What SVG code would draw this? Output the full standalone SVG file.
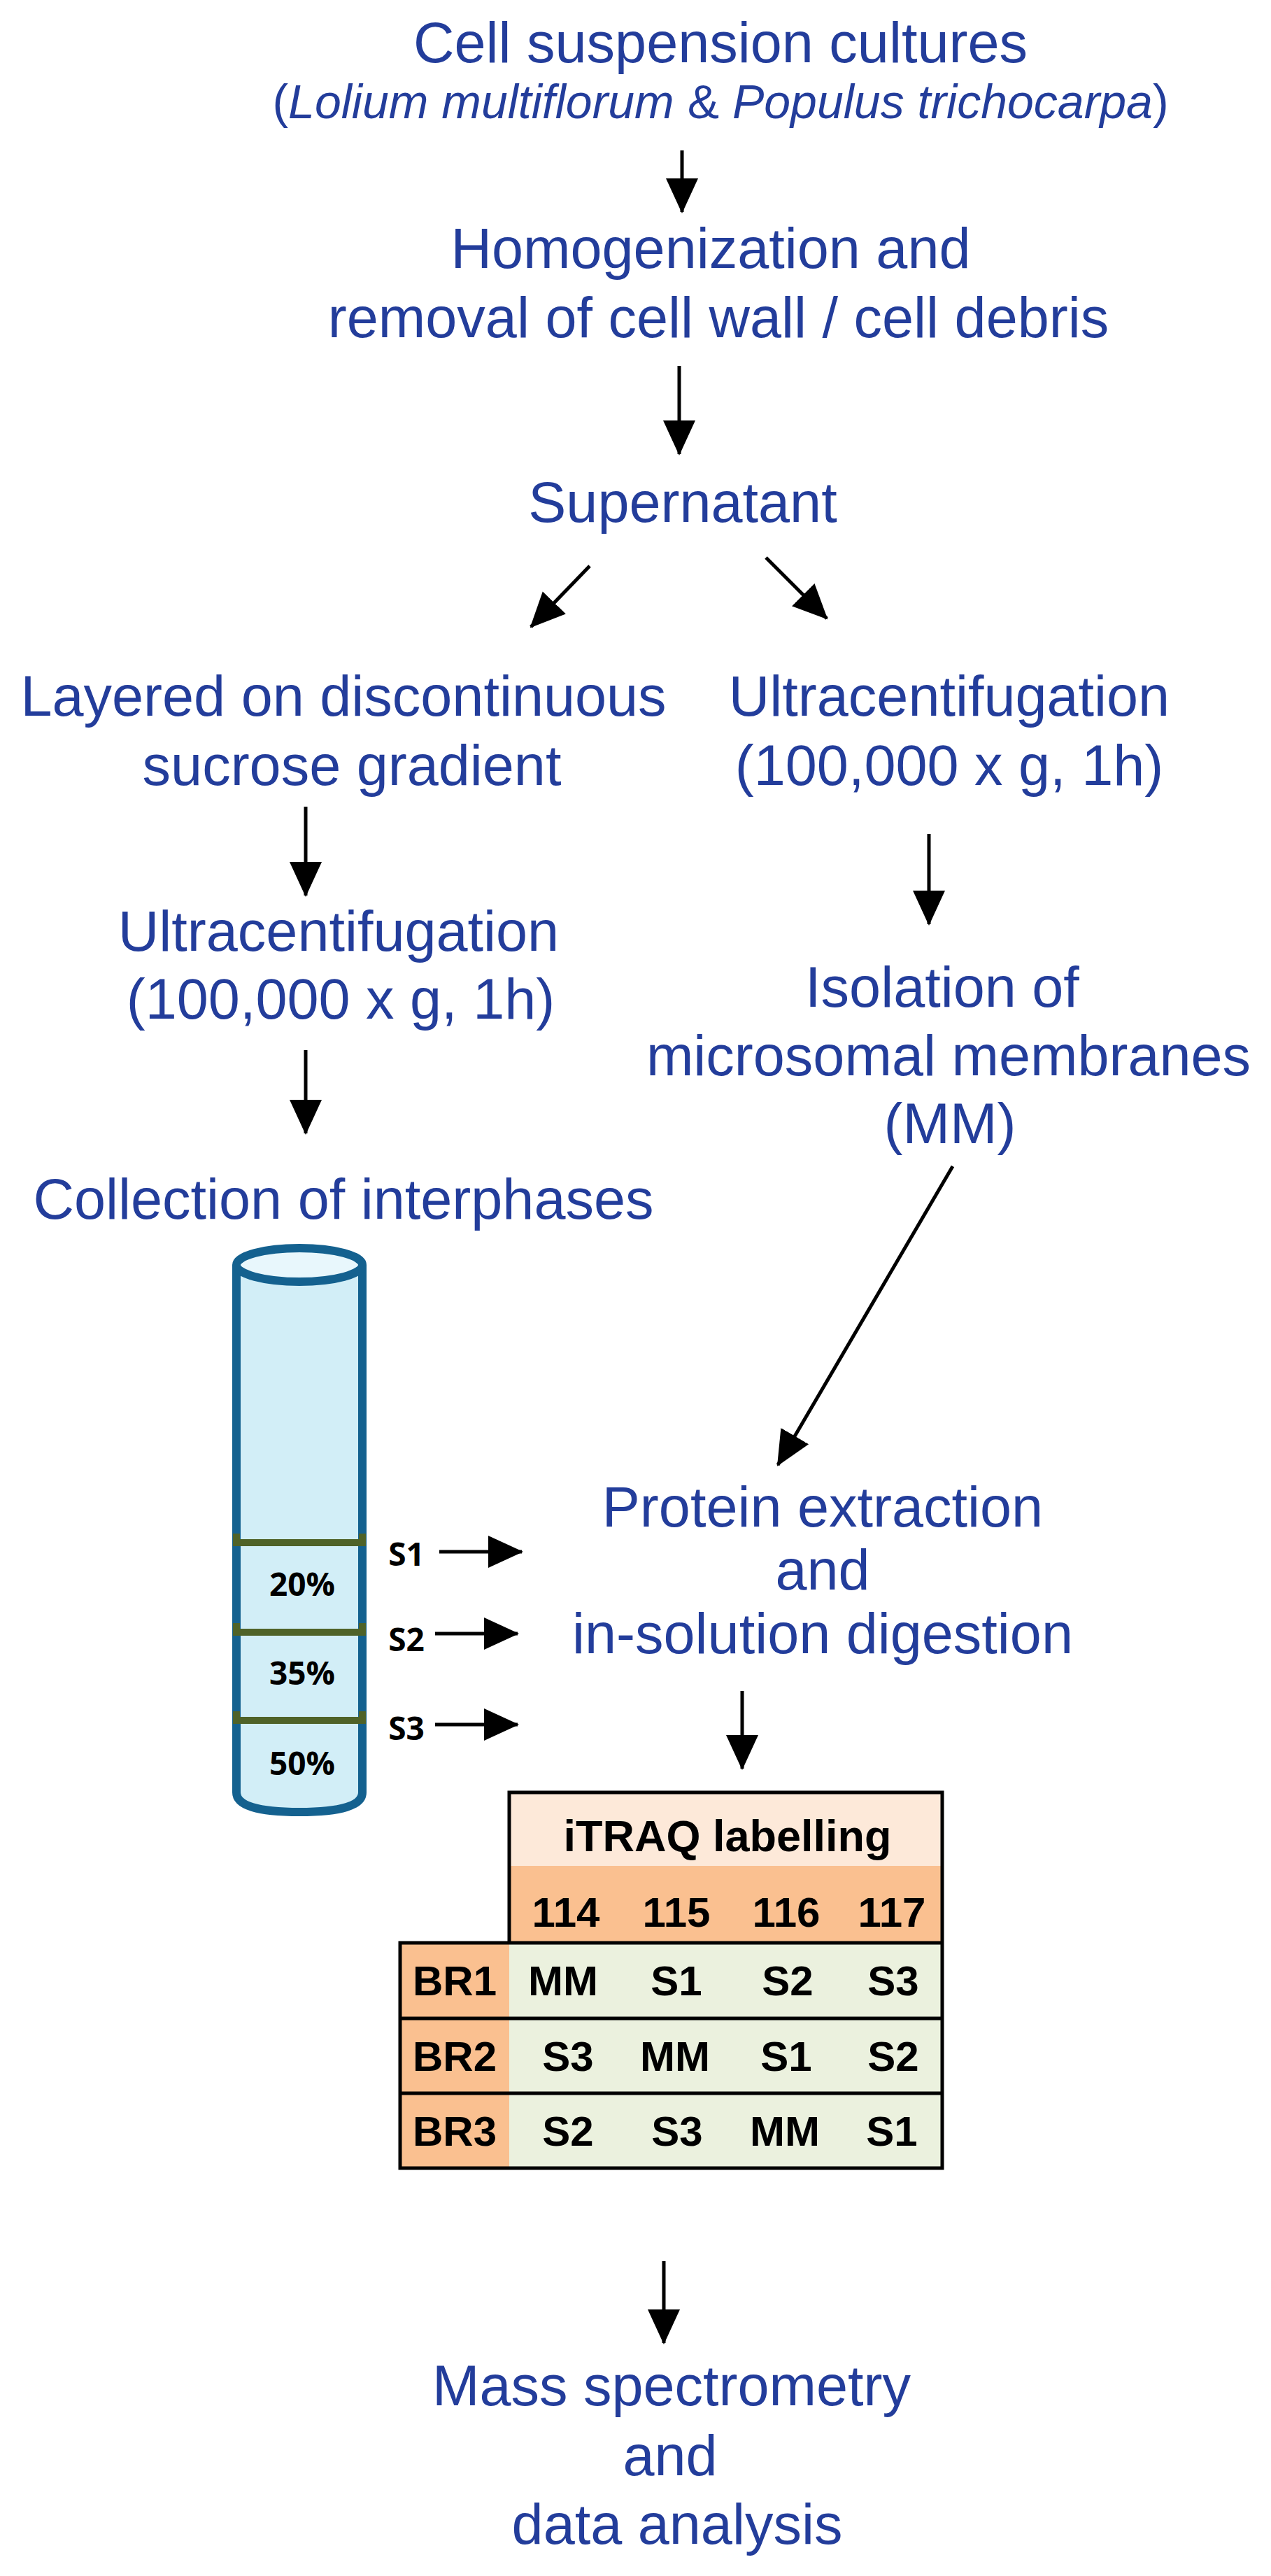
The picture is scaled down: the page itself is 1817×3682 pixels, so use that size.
<svg xmlns="http://www.w3.org/2000/svg" width="1817" height="3682" viewBox="0 0 1817 3682">
<style>
.t{font-family:"Liberation Sans",Arial,sans-serif;fill:#233D9B;font-size:81px;text-anchor:middle}
.b{font-family:"Liberation Sans",Arial,sans-serif;font-weight:bold;fill:#000;font-size:60px;text-anchor:middle}
.c{font-family:"Open Sans","Liberation Sans",sans-serif;font-weight:bold;fill:#000;font-size:46px;text-anchor:middle}
.a{stroke:#000;stroke-width:5;fill:none;marker-end:url(#ah)}
</style>
<defs>
<marker id="ah" markerUnits="userSpaceOnUse" markerWidth="50" markerHeight="50" viewBox="0 0 50 50" refX="48" refY="25" orient="auto">
<path d="M0,2 L50,25 L0,48 Z" fill="#000"/>
</marker>
</defs>
<rect width="1817" height="3682" fill="#fff"/>
<g id="n1"><text class="t" x="1030" y="89">Cell suspension cultures</text>
<text class="t" x="1030" y="169" style="font-size:68px">(<tspan font-style="italic">Lolium multiflorum</tspan> &amp; <tspan font-style="italic">Populus trichocarpa</tspan>)</text></g>
<g id="n2"><text class="t" x="1016" y="383">Homogenization and</text><text class="t" x="1027" y="482">removal of cell wall / cell debris</text></g>
<g id="n3"><text class="t" x="976" y="746">Supernatant</text></g>
<g id="n4"><text class="t" x="491" y="1023">Layered on discontinuous</text><text class="t" x="503" y="1122">sucrose gradient</text></g>
<g id="n5"><text class="t" x="1357" y="1023">Ultracentifugation</text><text class="t" x="1357" y="1122">(100,000 x g, 1h)</text></g>
<g id="n6"><text class="t" x="484" y="1359">Ultracentifugation</text><text class="t" x="487" y="1456">(100,000 x g, 1h)</text></g>
<g id="n7"><text class="t" x="1347" y="1439">Isolation of</text><text class="t" x="1356" y="1537">microsomal membranes</text><text class="t" x="1358" y="1634">(MM)</text></g>
<g id="n8"><text class="t" x="491" y="1742">Collection of interphases</text></g>
<g id="tube">
<path d="M338,1808 L338,2562 Q338,2590 428,2590 Q518,2590 518,2562 L518,1808" fill="#D2EEF7" stroke="#14618F" stroke-width="12"/>
<ellipse cx="428" cy="1808" rx="90" ry="24" fill="#E8F7FC" stroke="#14618F" stroke-width="12"/>
<g stroke="#4F6228" stroke-width="10" fill="none">
<path d="M338,2192 V2205 H518 V2192"/><path d="M338,2320 V2333 H518 V2320"/><path d="M338,2446 V2459 H518 V2446"/>
</g>
<text class="c" x="432" y="2281">20%</text><text class="c" x="432" y="2408">35%</text><text class="c" x="432" y="2537">50%</text>
<text class="c" x="581" y="2238">S1</text><text class="c" x="581" y="2360">S2</text><text class="c" x="581" y="2487">S3</text>
</g>
<g id="n9"><text class="t" x="1176" y="2182">Protein extraction</text><text class="t" x="1176" y="2272">and</text><text class="t" x="1176" y="2363">in-solution digestion</text></g>
<g id="table">
<rect x="728" y="2562" width="619" height="105" fill="#FDE9D9"/>
<rect x="728" y="2667" width="619" height="110" fill="#FAC090"/>
<rect x="572" y="2777" width="156" height="322" fill="#FAC090"/>
<rect x="728" y="2777" width="619" height="322" fill="#EBF1DE"/>
<path d="M728,2777 V2562 H1347 V3099 H572 V2777 H1347 M572,2885 H1347 M572,2992 H1347" fill="none" stroke="#000" stroke-width="5"/>
<text class="b" x="1040" y="2646" style="font-size:63px">iTRAQ labelling</text>
<text class="b" x="809" y="2754">114</text><text class="b" x="967" y="2754">115</text><text class="b" x="1124" y="2754">116</text><text class="b" x="1275" y="2754">117</text>
<text class="b" x="650" y="2852">BR1</text><text class="b" x="805" y="2852">MM</text><text class="b" x="967" y="2852">S1</text><text class="b" x="1126" y="2852">S2</text><text class="b" x="1277" y="2852">S3</text>
<text class="b" x="650" y="2960">BR2</text><text class="b" x="812" y="2960">S3</text><text class="b" x="965" y="2960">MM</text><text class="b" x="1124" y="2960">S1</text><text class="b" x="1277" y="2960">S2</text>
<text class="b" x="650" y="3067">BR3</text><text class="b" x="812" y="3067">S2</text><text class="b" x="968" y="3067">S3</text><text class="b" x="1122" y="3067">MM</text><text class="b" x="1275" y="3067">S1</text>
</g>
<g id="n10"><text class="t" x="960" y="3438">Mass spectrometry</text><text class="t" x="958" y="3538">and</text><text class="t" x="968" y="3636">data analysis</text></g>
<g id="connectors">
<line class="a" x1="975" y1="215" x2="975" y2="303"/>
<line class="a" x1="971" y1="523" x2="971" y2="649"/>
<line class="a" x1="843" y1="809" x2="759" y2="896"/>
<line class="a" x1="1095" y1="797" x2="1182" y2="884"/>
<line class="a" x1="437" y1="1153" x2="437" y2="1280"/>
<line class="a" x1="1328" y1="1192" x2="1328" y2="1321"/>
<line class="a" x1="437" y1="1501" x2="437" y2="1620"/>
<line class="a" x1="1362" y1="1667" x2="1112" y2="2094"/>
<line class="a" x1="628" y1="2218" x2="746" y2="2218"/>
<line class="a" x1="622" y1="2335" x2="740" y2="2335"/>
<line class="a" x1="622" y1="2465" x2="740" y2="2465"/>
<line class="a" x1="1061" y1="2417" x2="1061" y2="2528"/>
<line class="a" x1="949" y1="3232" x2="949" y2="3349"/>
</g>
</svg>
